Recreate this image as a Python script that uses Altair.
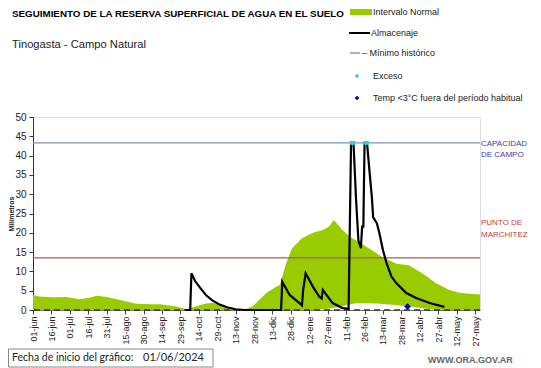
import altair as alt
import pandas as pd

# ---- data ----
tick_labels = ["01-jun", "16-jun", "01-jul", "16-jul", "31-jul", "15-ago", "30-ago",
               "14-sep", "29-sep", "14-oct", "29-oct", "13-nov", "28-nov", "13-dic",
               "28-dic", "12-ene", "27-ene", "11-feb", "26-feb", "13-mar", "28-mar",
               "12-abr", "27-abr", "12-may", "27-may"]
tick_days = [i * 15 for i in range(len(tick_labels))]
y_ticks = [0, 5, 10, 15, 20, 25, 30, 35, 40, 45, 50]

# upper limit of the normal interval (mm) by day since 01-jun
upper_days = [0, 5, 16, 27, 38, 46, 52, 60, 71, 84, 98, 103, 117, 125, 133, 140, 146,
              155, 160, 174, 179, 190, 198, 201, 206, 211, 219, 228, 236, 241, 245,
              252, 258, 266, 276, 284, 296, 306, 317, 328, 339, 347, 356, 364]
upper_vals = [3.9, 3.5, 3.3, 3.4, 2.8, 3.2, 3.7, 3.4, 2.6, 1.6, 1.5, 1.5, 0.9, 0.2, 1.0, 1.6, 1.9,
              1.3, 0.2, 0.3, 1.0, 4.4, 6.0, 6.5, 12.0, 16.0, 18.6, 20.0, 20.7, 21.6, 23.3,
              20.7, 19.0, 17.5, 15.5, 13.8, 12.0, 11.6, 9.5, 7.0, 5.2, 4.5, 4.2, 4.0]
# lower limit of the normal interval (mm)
lower_days = [230, 240, 250, 258, 265, 280, 295, 310, 320, 330]
lower_vals = [0.0, 0.3, 0.8, 1.5, 1.8, 1.7, 1.3, 0.8, 0.3, 0.0]

# soil water storage (Almacenaje)
alm_days = [124, 128, 129, 132, 136, 141, 146, 152, 158, 165, 172, 202, 203, 209, 217, 219,
            220, 222, 228, 233, 235, 236, 244, 252, 257, 259, 261, 263, 265, 267, 268, 269,
            270, 272, 274, 276, 277, 280, 282, 285, 288, 292, 296, 304, 312, 323, 335]
alm_vals = [0.0, 0.0, 9.5, 7.5, 5.8, 3.8, 2.5, 1.4, 0.7, 0.2, 0.0, 0.0, 7.3, 3.9, 1.8, 1.2,
            5.2, 9.5, 6.0, 3.5, 3.0, 5.2, 1.8, 0.5, 0.3, 43.3, 43.3, 29.0, 18.0, 16.0, 21.6, 21.6,
            43.3, 43.3, 36.0, 29.0, 24.0, 22.5, 20.0, 15.5, 12.0, 8.6, 6.9, 4.4, 3.1, 1.8, 0.8]

exceso_days = [259.5, 261.0, 270.5, 272.0]
exceso_vals = [43.3, 43.3, 43.3, 43.3]
temp_days = [305]
temp_vals = [0.9]

capacidad = 43.3
marchitez = 13.5

GREEN = "#99CC00"
FONT = "Liberation Sans"
W, H = 447, 193

xs = alt.Scale(domain=[0, 364], nice=False, zero=False)
ys = alt.Scale(domain=[0, 50], nice=False)

label_expr = "[" + ",".join("'%s'" % t for t in tick_labels) + "][round(datum.value/15)]"

up_df = pd.DataFrame({"d": upper_days, "v": upper_vals})
lo_df = pd.DataFrame({"d": lower_days, "v": lower_vals})
alm_df = pd.DataFrame({"d": alm_days, "v": alm_vals})
exc_df = pd.DataFrame({"d": exceso_days, "v": exceso_vals})
tmp_df = pd.DataFrame({"d": temp_days, "v": temp_vals})
ref_df = pd.DataFrame({"v": [capacidad, marchitez], "c": ["cap", "mar"]})

x_axis = alt.Axis(
    values=tick_days, labelExpr=label_expr, labelAngle=-90, labelFontSize=9,
    labelFont=FONT, labelColor="#222", grid=False, title=None, tickSize=4,
    tickColor="#444", domainColor="#777", labelPadding=2, labelOverlap=False,
    labelBound=False, labelFlush=False)
y_axis = alt.Axis(
    values=y_ticks, labelFontSize=10, labelFont=FONT, labelColor="#222",
    grid=False, title=None, tickSize=4, tickColor="#333", domainColor="#333",
    labelPadding=3, labelOverlap=False, labelFlush=False)


def X():
    return alt.X("d:Q", scale=xs, axis=x_axis)


def Y():
    return alt.Y("v:Q", scale=ys, axis=y_axis)


green = alt.Chart(up_df).mark_area(color=GREEN, opacity=1, interpolate="linear").encode(x=X(), y=Y())
white = alt.Chart(lo_df).mark_area(color="white", opacity=1).encode(x=X(), y=Y())

refs = alt.Chart(ref_df).mark_rule(strokeWidth=1.2).encode(
    y=Y(),
    color=alt.Color("c:N", scale=alt.Scale(domain=["cap", "mar"], range=["#7f90b5", "#a85a5a"]),
                    legend=None))

zero_line = alt.Chart(alt.Data(values=[{"v": 0}])).mark_rule(
    color="#333", strokeDash=[6, 4], strokeWidth=1.3).encode(y=Y())

alm = alt.Chart(alm_df).mark_line(color="black", strokeWidth=2.2).encode(x=X(), y=Y())

exc = alt.Chart(exc_df).mark_point(shape="square", filled=True, color="#33ccee", size=14, opacity=1).encode(
    x=X(), y=Y())

tmp = alt.Chart(tmp_df).mark_point(shape="diamond", filled=True, color="#0000cc", size=45, opacity=1).encode(
    x=X(), y=Y())

one = alt.Data(values=[{}])


def txt(s, x, y, size=9, color="#222", weight="normal", align="left", angle=0, font=FONT):
    return alt.Chart(one).mark_text(text=s, fontSize=size, color=color, fontWeight=weight,
                                    align=align, baseline="middle", angle=angle, font=font).encode(
        x=alt.value(x), y=alt.value(y))


# plot origin is at page (33,117)
texts = [
    txt("SEGUIMIENTO DE LA RESERVA SUPERFICIAL DE AGUA EN EL SUELO", -21, -103, size=9.8,
        color="black", weight="bold"),
    txt("Tinogasta  - Campo Natural", -21, -72, size=11.2, color="#222"),
    txt("Intervalo Normal", 340, -105, size=9),
    txt("Almacenaje", 338, -84, size=9),
    txt("– Mínimo histórico", 329, -64, size=9),
    txt("Exceso", 340, -41, size=9),
    txt("Temp <3°C fuera del período habitual", 340, -19, size=9),
    txt("CAPACIDAD", 448, 27, size=8, color="#3d3db0"),
    txt("DE  CAMPO", 448, 38, size=8, color="#3d3db0"),
    txt("PUNTO  DE", 448, 106, size=8, color="#c04040"),
    txt("MARCHITEZ", 448, 118, size=8, color="#c04040"),
    txt("Milímetros", -21, 97, size=7, color="#222", weight="bold", align="center", angle=270),
    txt("Fecha de inicio del gráfico:", -21, 241, size=10.5, color="#222", font="Lato"),
    txt("01/06/2024", 110, 241, size=11, color="#222", font="Lato"),
    txt("WWW.ORA.GOV.AR", 395, 243, size=9, color="#666", weight="bold"),
]

leg_green = alt.Chart(one).mark_rect(color=GREEN).encode(
    x=alt.value(317), x2=alt.value(339), y=alt.value(-108), y2=alt.value(-102))
leg_black = alt.Chart(one).mark_rule(color="black", strokeWidth=2).encode(
    x=alt.value(316), x2=alt.value(337), y=alt.value(-84))
leg_gray = alt.Chart(one).mark_rule(color="#999", strokeWidth=1.5).encode(
    x=alt.value(317), x2=alt.value(327), y=alt.value(-64))
leg_cyan = alt.Chart(one).mark_point(shape="square", filled=True, color="#33ccee", size=10, opacity=1).encode(
    x=alt.value(324), y=alt.value(-41))
leg_blue = alt.Chart(one).mark_point(shape="diamond", filled=True, color="#0000cc", size=22, opacity=1).encode(
    x=alt.value(324), y=alt.value(-19))
box = alt.Chart(one).mark_rect(fill="white", stroke="#888", strokeWidth=1).encode(
    x=alt.value(-24.5), x2=alt.value(180), y=alt.value(232), y2=alt.value(250))

chart = alt.layer(
    green, white, refs, zero_line, alm, exc, tmp,
    leg_green, leg_black, leg_gray, leg_cyan, leg_blue, box, *texts
).properties(
    width=W, height=H, autosize="none",
    padding={"left": 25, "top": 109, "right": 53, "bottom": 58},
).configure_view(stroke=None).configure(background="white")

chart.save("out.html", embed_options={"renderer": "svg", "actions": False})
